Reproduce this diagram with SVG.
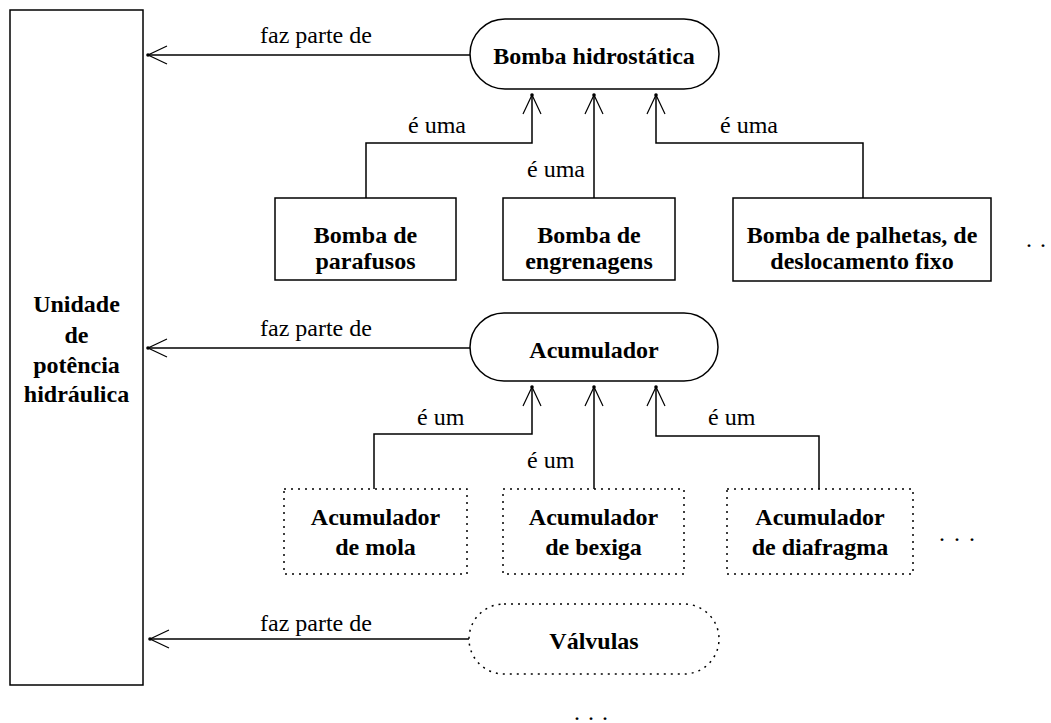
<svg xmlns="http://www.w3.org/2000/svg" width="1051" height="723" viewBox="0 0 1051 723">
<style>
text{font-family:"Liberation Serif","Times New Roman",serif;fill:#000}
.n{font-size:24px;font-weight:bold;text-anchor:middle}
.l{font-size:24px}
.d{font-size:24px}
.box{fill:#fff;stroke:#000;stroke-width:1.5}
.dot{fill:#fff;stroke:#000;stroke-width:1.5;stroke-dasharray:2 5}
.c{fill:none;stroke:#000;stroke-width:1.5}
</style>
<defs>
<marker id="arr" markerUnits="userSpaceOnUse" viewBox="-22 -11 26 22" refX="0" refY="0" markerWidth="26" markerHeight="22" orient="auto" overflow="visible">
<path d="M-19,-9 L0,0 L-19,9" fill="none" stroke="#000" stroke-width="1.2"/>
<circle cx="0" cy="0" r="1.8" fill="#000"/>
</marker>
</defs>
<rect width="1051" height="723" fill="#fff"/>
<g id="unidade">
<rect class="box" x="10" y="10" width="133" height="675"/>
<text class="n" x="76.5" y="312">Unidade</text>
<text class="n" x="76.5" y="343">de</text>
<text class="n" x="76.5" y="373">potência</text>
<text class="n" x="76.5" y="402">hidráulica</text>
</g>
<g id="bomba-hidrostatica">
<rect class="box" x="470" y="19" width="249" height="70" rx="35" ry="35"/>
<text class="n" x="594" y="64">Bomba hidrostática</text>
</g>
<g id="bomba-parafusos">
<rect class="box" x="275" y="198" width="181" height="82"/>
<text class="n" x="365.5" y="243">Bomba de</text>
<text class="n" x="365.5" y="269">parafusos</text>
</g>
<g id="bomba-engrenagens">
<rect class="box" x="503" y="198" width="172" height="82"/>
<text class="n" x="589" y="243">Bomba de</text>
<text class="n" x="589" y="269">engrenagens</text>
</g>
<g id="bomba-palhetas">
<rect class="box" x="733" y="198" width="258" height="83"/>
<text class="n" x="862" y="243">Bomba de palhetas, de</text>
<text class="n" x="862" y="269">deslocamento fixo</text>
</g>
<g id="acumulador">
<rect class="box" x="470" y="313" width="248" height="68" rx="34" ry="34"/>
<text class="n" x="594" y="358">Acumulador</text>
</g>
<g id="acumulador-mola">
<rect class="dot" x="284" y="489" width="183" height="85"/>
<text class="n" x="375.5" y="525">Acumulador</text>
<text class="n" x="375.5" y="555">de mola</text>
</g>
<g id="acumulador-bexiga">
<rect class="dot" x="503" y="489" width="181" height="85"/>
<text class="n" x="593.5" y="525">Acumulador</text>
<text class="n" x="593.5" y="555">de bexiga</text>
</g>
<g id="acumulador-diafragma">
<rect class="dot" x="727" y="489" width="186" height="85"/>
<text class="n" x="820" y="525">Acumulador</text>
<text class="n" x="820" y="555">de diafragma</text>
</g>
<g id="valvulas">
<rect class="dot" x="469" y="604" width="250" height="70" rx="35" ry="35"/>
<text class="n" x="594" y="649">Válvulas</text>
</g>
<g id="connectors">
<path class="c" d="M470,55 L148,55" marker-end="url(#arr)"/>
<path class="c" d="M470,348 L148,348" marker-end="url(#arr)"/>
<path class="c" d="M469,639 L150,639" marker-end="url(#arr)"/>
<path class="c" d="M366,198 L366,143 L532,143 L532,95" marker-end="url(#arr)"/>
<path class="c" d="M594,198 L594,95" marker-end="url(#arr)"/>
<path class="c" d="M863,198 L863,143 L656,143 L656,95" marker-end="url(#arr)"/>
<path class="c" d="M374,489 L374,434 L532,434 L532,387" marker-end="url(#arr)"/>
<path class="c" d="M594,489 L594,387" marker-end="url(#arr)"/>
<path class="c" d="M819,489 L819,436 L656,436 L656,387" marker-end="url(#arr)"/>
<text class="l" x="260" y="43">faz parte de</text>
<text class="l" x="260" y="336">faz parte de</text>
<text class="l" x="260" y="631">faz parte de</text>
<text class="l" x="408" y="133">é uma</text>
<text class="l" x="527" y="177">é uma</text>
<text class="l" x="720" y="133">é uma</text>
<text class="l" x="417" y="425">é um</text>
<text class="l" x="527" y="468">é um</text>
<text class="l" x="708" y="425">é um</text>
</g>
<text class="d" x="1026 1040" y="247">..</text>
<text class="d" x="939 954 969" y="541">...</text>
<text class="d" x="574 588 602" y="720">...</text>
</svg>
